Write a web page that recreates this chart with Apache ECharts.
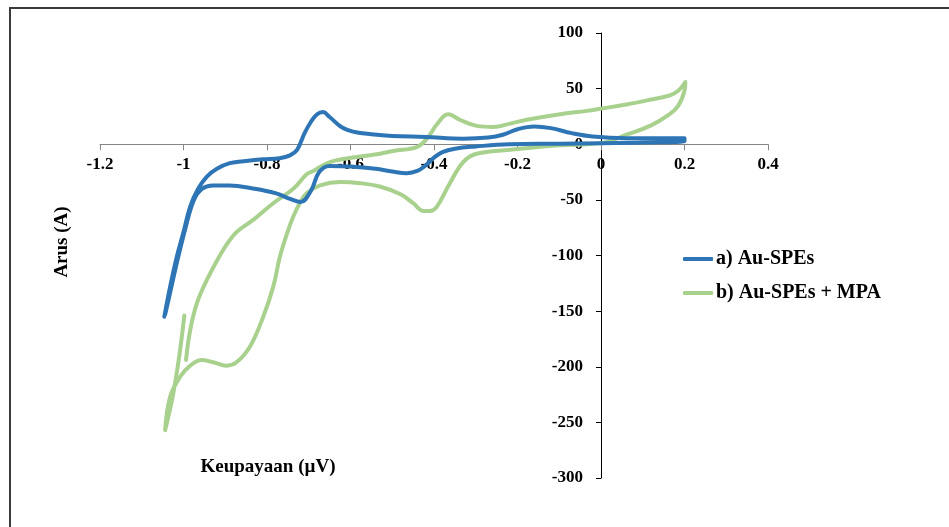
<!DOCTYPE html>
<html>
<head>
<meta charset="utf-8">
<script src="https://cdn.jsdelivr.net/npm/echarts@6/dist/echarts.min.js"></script>
<style>
html,body{margin:0;padding:0;background:#fff;}
#chart{width:949px;height:527px;}
</style>
</head>
<body>
<div id="chart"></div>
<script>
var seriesNames = ['a) Au-SPEs', 'b) Au-SPEs + MPA'];
var xTickLabels = ['-1.2', '-1', '-0.8', '-0.6', '-0.4', '-0.2', '0', '0.2', '0.4'];
var yTickLabels = ['-300', '-250', '-200', '-150', '-100', '-50', '0', '50', '100'];
var xAxisTitle = 'Keupayaan (µV)';
var yAxisTitle = 'Arus (A)';

var auSpeX = [-1.046,-1.032,-1.016,-1.0,-0.984,-0.965,-0.944,-0.92,-0.889,-0.85,-0.81,-0.77,-0.745,-0.728,-0.71,-0.695,-0.68,-0.666,-0.65,-0.62,-0.59,-0.55,-0.5,-0.42,-0.33,-0.27,-0.235,-0.2,-0.16,-0.12,-0.07,-0.02,0.06,0.2,
  0.2,0.1,0.0,-0.1,-0.22,-0.3,-0.35,-0.38,-0.4,-0.42,-0.44,-0.465,-0.5,-0.54,-0.6,-0.65,-0.675,-0.695,-0.72,-0.745,-0.78,-0.83,-0.89,-0.93,-0.955,-0.975,-0.995,-1.015,-1.03,-1.044];
var auSpeY = [-155,-128,-101,-79,-56,-40,-29,-22,-17,-15,-13.5,-12.5,-10,-5,10,20,27,29,24.5,15,11,9,7.5,6.5,5,6,8.5,13.5,16,14.5,10,7,5.5,5.5,
  3,1.5,1,0.5,0,-2,-4,-7,-12,-19,-24,-26,-24.5,-22,-20,-19.5,-25,-42,-52,-49,-44,-40,-37,-37,-40,-50,-75,-105,-130,-153];

var mpaX = [-0.998,-1.01,-1.025,-1.044,-1.032,-1.008,-0.984,-0.956,-0.929,-0.897,-0.873,-0.841,-0.809,-0.785,-0.769,-0.75,-0.737,-0.72,-0.705,-0.673,-0.625,-0.577,-0.53,-0.48,-0.45,-0.425,-0.41,-0.393,-0.362,-0.33,-0.298,-0.218,-0.1,0.0,0.064,0.12,0.16,0.184,0.2,0.202,
  0.185,0.165,0.117,0.064,0.0,-0.034,-0.098,-0.178,-0.218,-0.258,-0.298,-0.338,-0.366,-0.393,-0.417,-0.441,-0.498,-0.529,-0.585,-0.649,-0.689,-0.705,-0.737,-0.785,-0.833,-0.873,-0.905,-0.944,-0.968,-0.984,-0.994];
var mpaY = [-154,-190,-225,-257,-227,-209,-199,-194,-196,-199,-196,-182,-155,-128,-101,-78,-65,-52,-44,-37,-34,-35,-38,-45,-53,-60,-60,-56,-35,-16,-8.5,-5,-1,1,9,17,26,34,48,56,
  48,44,40,36,32,30,27,22,18.5,15.5,16.5,22,27,18,5,-2.5,-6,-8.5,-11.5,-16,-24,-27,-40,-53,-68,-79,-95,-122,-143,-167,-194];

function pairs(xs, ys) { return xs.map(function (x, i) { return [x, ys[i]]; }); }

var serif = "'Liberation Serif','Times New Roman',serif";
var chart = echarts.init(document.getElementById('chart'), null, {renderer: 'canvas'});
chart.setOption({
  animation: false,
  backgroundColor: '#ffffff',
  grid: {left: 100, right: 181, top: 33, bottom: 49, containLabel: false},
  xAxis: {
    type: 'value', min: -1.2, max: 0.4, interval: 0.2, position: 'bottom', offset: 0,
    axisLine: {onZero: false, lineStyle: {color: '#868686', width: 1}},
    axisTick: {show: true, length: 6, lineStyle: {color: '#868686'}},
    splitLine: {show: false},
    axisLabel: {
      margin: 12, color: '#000', fontFamily: serif, fontWeight: 'bold', fontSize: 17,
      formatter: function (v) { return xTickLabels[Math.round((v + 1.2) / 0.2)]; }
    }
  },
  yAxis: {
    type: 'value', min: -300, max: 100, interval: 50, position: 'left', offset: 0,
    axisLine: {show: true, onZero: false, lineStyle: {color: '#000', width: 1}},
    axisTick: {show: true, length: 5, lineStyle: {color: '#000'}},
    splitLine: {show: false},
    axisLabel: {
      margin: 18, color: '#000', fontFamily: serif, fontWeight: 'bold', fontSize: 17,
      formatter: function (v) { return yTickLabels[Math.round((v + 300) / 50)]; }
    }
  },
  legend: {
    orient: 'vertical', left: 683, top: 249, padding: 0, itemWidth: 30, itemHeight: 4, itemGap: 14,
    icon: 'roundRect',
    textStyle: {color: '#000', fontFamily: serif, fontWeight: 'bold', fontSize: 20, padding: [0, 0, 0, -2]},
    data: seriesNames
  },
  graphic: [
    {type: 'rect', shape: {x: 10, y: 8, width: 960, height: 540}, style: {fill: 'none', stroke: '#3a3a3a', lineWidth: 2}, silent: true},
    {type: 'text', x: 268, y: 467, style: {text: xAxisTitle, font: "bold 19px 'Liberation Serif','Times New Roman',serif", fill: '#000', textAlign: 'center', textVerticalAlign: 'middle'}},
    {type: 'text', x: 62, y: 242, rotation: Math.PI / 2, style: {text: yAxisTitle, font: "bold 19px 'Liberation Serif','Times New Roman',serif", fill: '#000', textAlign: 'center', textVerticalAlign: 'middle'}}
  ],
  series: [
    {name: seriesNames[0], type: 'line', data: pairs(auSpeX, auSpeY), smooth: 0.4, showSymbol: false, symbol: 'none',
     lineStyle: {color: '#2E75B6', width: 4, cap: 'round', join: 'round'}, itemStyle: {color: '#2E75B6'}, z: 3},
    {name: seriesNames[1], type: 'line', data: pairs(mpaX, mpaY), smooth: 0.4, showSymbol: false, symbol: 'none',
     lineStyle: {color: '#A9D18E', width: 4, cap: 'round', join: 'round'}, itemStyle: {color: '#A9D18E'}, z: 2}
  ]
});
// Move both axes (line, ticks and labels) to cross at the origin, as in the reference.
var origin = chart.convertToPixel({gridIndex: 0}, [0, 0]);
var gridRect = {left: 100, top: 33, bottom: 527 - 49};
chart.setOption({
  xAxis: {offset: -(gridRect.bottom - origin[1])},
  yAxis: {offset: -(origin[0] - gridRect.left)}
});
</script>
</body>
</html>
